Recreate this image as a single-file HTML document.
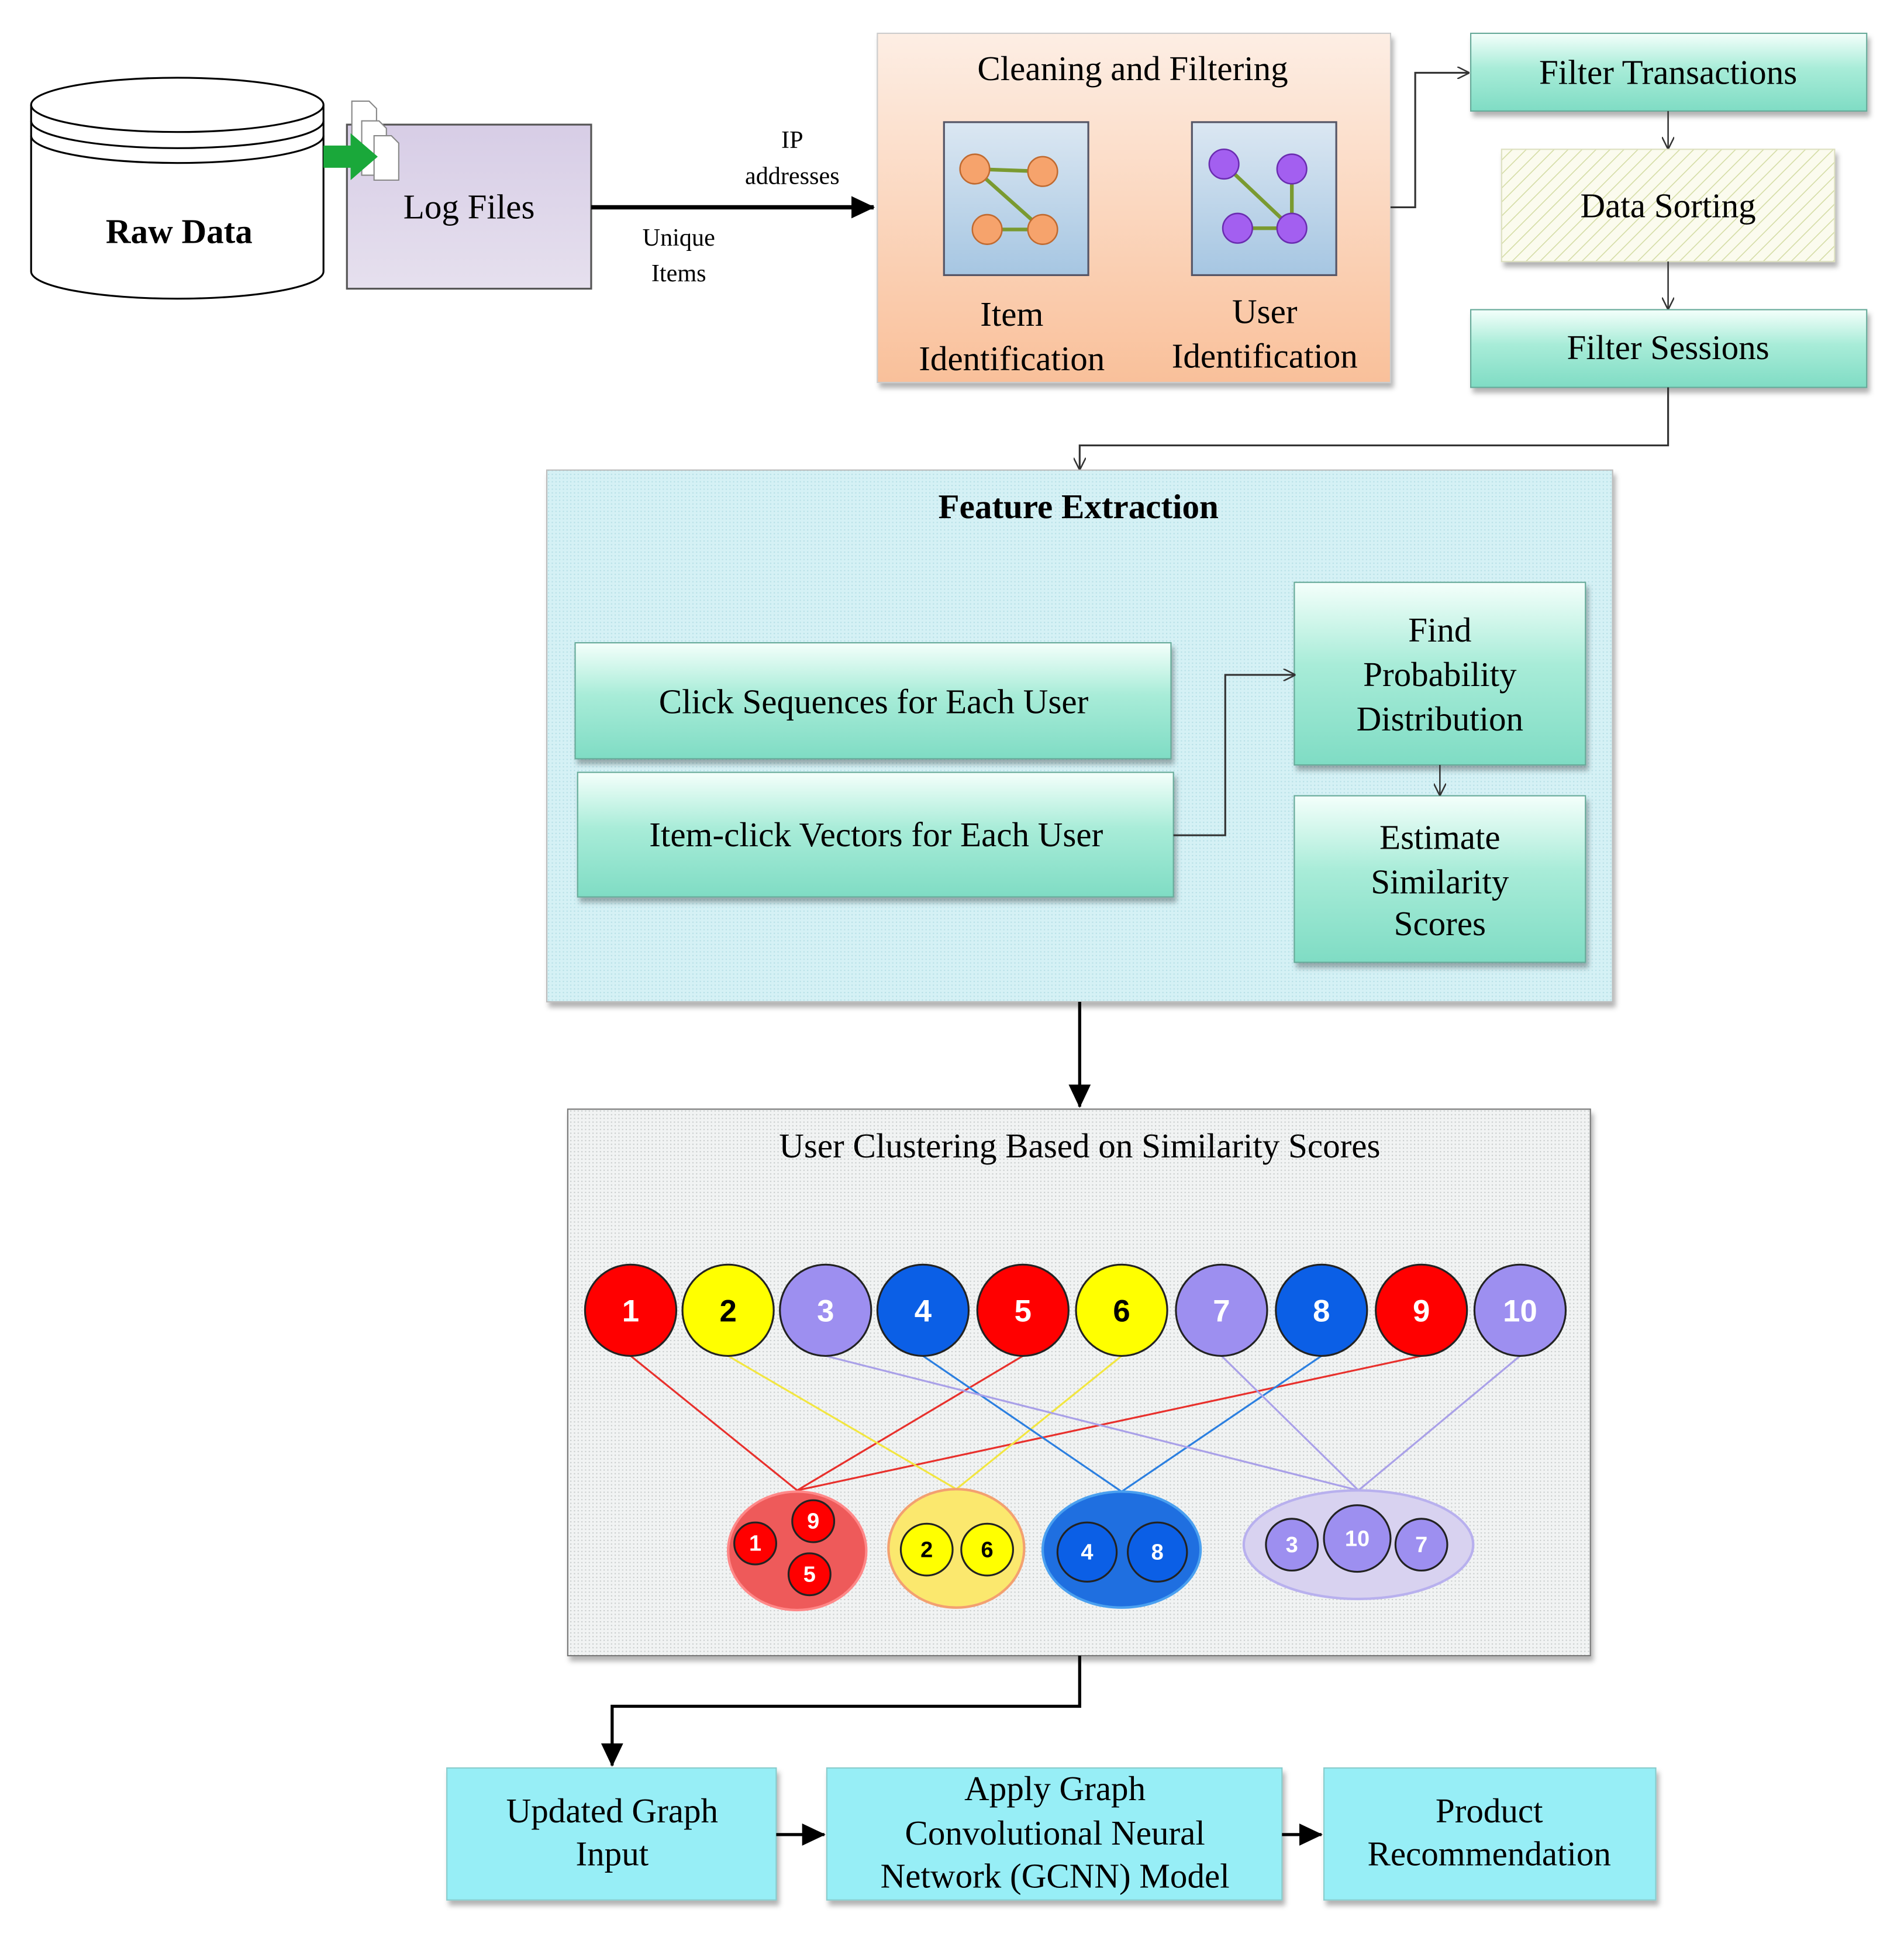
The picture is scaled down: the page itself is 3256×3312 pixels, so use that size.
<!DOCTYPE html>
<html><head><meta charset="utf-8"><style>html,body{margin:0;padding:0;background:#fff}svg{display:block}</style></head>
<body>
<svg xmlns="http://www.w3.org/2000/svg" width="3256" height="3312" viewBox="0 0 1543 1570" font-family="'Liberation Serif', serif">
<defs>
<linearGradient id="teal" x1="0" y1="0" x2="0" y2="1"><stop offset="0" stop-color="#f4fffb"/><stop offset="0.45" stop-color="#a8ecd8"/><stop offset="1" stop-color="#7fdcc4"/></linearGradient>
<linearGradient id="peach" x1="0" y1="0" x2="0" y2="1"><stop offset="0" stop-color="#fdeee4"/><stop offset="1" stop-color="#f9c09a"/></linearGradient>
<linearGradient id="lav" x1="0" y1="0" x2="0" y2="1"><stop offset="0" stop-color="#d7cde6"/><stop offset="1" stop-color="#e6e0ee"/></linearGradient>
<linearGradient id="icon" x1="0" y1="0" x2="0" y2="1"><stop offset="0" stop-color="#dbe7f2"/><stop offset="1" stop-color="#a6c6e2"/></linearGradient>
<pattern id="hatch" width="8" height="8" patternUnits="userSpaceOnUse" patternTransform="rotate(45)"><rect width="8" height="8" fill="#fbfbee"/><line x1="0" y1="0" x2="0" y2="8" stroke="#d4dca4" stroke-width="1.5"/></pattern>
<pattern id="dotc" width="3" height="3" patternUnits="userSpaceOnUse"><rect width="3" height="3" fill="#d5f1f5"/><rect width="1" height="1" fill="#b6dfe6"/></pattern>
<pattern id="dotg" width="3" height="3" patternUnits="userSpaceOnUse"><rect width="3" height="3" fill="#f1f3f3"/><rect width="1" height="1" fill="#c8cccc"/></pattern>
<marker id="ah" markerWidth="10" markerHeight="10" refX="9" refY="5" orient="auto" markerUnits="userSpaceOnUse"><path d="M0,0 L10,5 L0,10" fill="none" stroke="#333" stroke-width="1.2"/></marker>
<marker id="af" markerWidth="20" markerHeight="20" refX="18" refY="10" orient="auto" markerUnits="userSpaceOnUse"><path d="M0,1 L19,10 L0,19 z" fill="#000"/></marker>
<filter id="sh" x="-5%" y="-5%" width="115%" height="120%"><feDropShadow dx="2" dy="4" stdDeviation="2" flood-opacity="0.3"/></filter>
</defs>

<!-- Raw data cylinder -->
<path d="M25,85 L25,220 A118,22 0 0 0 262,220 L262,85" fill="#fff" stroke="#000" stroke-width="1.5"/>
<ellipse cx="143.5" cy="85" rx="118.5" ry="22" fill="#fff" stroke="#000" stroke-width="1.5"/>
<path d="M25,98 A118,22 0 0 0 262,98 M25,110 A118,22 0 0 0 262,110" fill="none" stroke="#000" stroke-width="1.5"/>
<text x="145" y="197" font-size="28" font-weight="bold" text-anchor="middle">Raw Data</text>

<!-- Log files -->
<rect x="281" y="101" width="198" height="133" fill="url(#lav)" stroke="#555" stroke-width="1.5"/>
<text x="380" y="177" font-size="28" text-anchor="middle">Log Files</text>
<path d="M285,82 h14 l6,6 v38 h-20 z" fill="#fff" stroke="#888"/>
<path d="M293,98 h14 l6,6 v38 h-20 z" fill="#fff" stroke="#888"/>
<path d="M303,110 h14 l6,6 v30 h-20 z" fill="#fff" stroke="#888"/>
<path d="M262,118 h22 v-10 l22,19 l-22,19 v-10 h-22 z" fill="#1aa83a"/>

<!-- main arrow -->
<line x1="479" y1="168" x2="708" y2="168" stroke="#000" stroke-width="3.5" marker-end="url(#af)"/>
<text x="642" y="120" font-size="20" text-anchor="middle">IP</text>
<text x="642" y="149" font-size="20" text-anchor="middle">addresses</text>
<text x="550" y="199" font-size="20" text-anchor="middle">Unique</text>
<text x="550" y="228" font-size="20" text-anchor="middle">Items</text>

<!-- Cleaning -->
<rect x="711" y="27" width="416" height="283" fill="url(#peach)" stroke="#ccc" filter="url(#sh)"/>
<text x="918" y="65" font-size="28" text-anchor="middle">Cleaning and Filtering</text>
<rect x="765" y="99" width="117" height="124" fill="url(#icon)" stroke="#556" stroke-width="1.5"/>
<rect x="966" y="99" width="117" height="124" fill="url(#icon)" stroke="#556" stroke-width="1.5"/>
<g stroke="#7a9a30" stroke-width="3"><line x1="790" y1="137" x2="845" y2="139"/><line x1="790" y1="137" x2="845" y2="186"/><line x1="800" y1="186" x2="845" y2="186"/>
<line x1="992" y1="133" x2="1047" y2="185"/><line x1="1047" y1="137" x2="1047" y2="185"/><line x1="1003" y1="185" x2="1047" y2="185"/></g>
<g fill="#f6a36c" stroke="#c06a30" stroke-width="1.2"><circle cx="790" cy="137" r="12"/><circle cx="845" cy="139" r="12"/><circle cx="800" cy="186" r="12"/><circle cx="845" cy="186" r="12"/></g>
<g fill="#a35ff0" stroke="#6a2cb0" stroke-width="1.2"><circle cx="992" cy="133" r="12"/><circle cx="1047" cy="137" r="12"/><circle cx="1003" cy="185" r="12"/><circle cx="1047" cy="185" r="12"/></g>
<g font-size="28" text-anchor="middle"><text x="820" y="264">Item</text><text x="820" y="300">Identification</text><text x="1025" y="262">User</text><text x="1025" y="298">Identification</text></g>

<path d="M1127,168 H1147 V59 H1190" fill="none" stroke="#333" stroke-width="1.5" marker-end="url(#ah)"/>

<!-- Right column -->
<rect x="1192" y="27" width="321" height="63" fill="url(#teal)" stroke="#6a9" filter="url(#sh)"/>
<text x="1352" y="68" font-size="28" text-anchor="middle">Filter Transactions</text>
<line x1="1352" y1="90" x2="1352" y2="120" stroke="#333" stroke-width="1.2" marker-end="url(#ah)"/>
<rect x="1217" y="121" width="270" height="91" fill="url(#hatch)" stroke="#dde0c0" filter="url(#sh)"/>
<text x="1352" y="176" font-size="28" text-anchor="middle">Data Sorting</text>
<line x1="1352" y1="212" x2="1352" y2="250" stroke="#333" stroke-width="1.2" marker-end="url(#ah)"/>
<rect x="1192" y="251" width="321" height="63" fill="url(#teal)" stroke="#6a9" filter="url(#sh)"/>
<text x="1352" y="291" font-size="28" text-anchor="middle">Filter Sessions</text>
<path d="M1352,314 V361 H875 V380" fill="none" stroke="#333" stroke-width="1.5" marker-end="url(#ah)"/>

<!-- Feature extraction -->
<rect x="443" y="381" width="864" height="431" fill="url(#dotc)" stroke="#bbb" filter="url(#sh)"/>
<text x="874" y="420" font-size="28" font-weight="bold" text-anchor="middle">Feature Extraction</text>
<rect x="466" y="521" width="483" height="94" fill="url(#teal)" stroke="#6a9" filter="url(#sh)"/>
<text x="708" y="578" font-size="28" text-anchor="middle">Click Sequences for Each User</text>
<rect x="468" y="626" width="483" height="101" fill="url(#teal)" stroke="#6a9" filter="url(#sh)"/>
<text x="710" y="686" font-size="28" text-anchor="middle">Item-click Vectors for Each User</text>
<rect x="1049" y="472" width="236" height="148" fill="url(#teal)" stroke="#6a9" filter="url(#sh)"/>
<g font-size="28" text-anchor="middle"><text x="1167" y="520">Find</text><text x="1167" y="556">Probability</text><text x="1167" y="592">Distribution</text></g>
<rect x="1049" y="645" width="236" height="135" fill="url(#teal)" stroke="#6a9" filter="url(#sh)"/>
<g font-size="28" text-anchor="middle"><text x="1167" y="688">Estimate</text><text x="1167" y="724">Similarity</text><text x="1167" y="758">Scores</text></g>
<path d="M951,677 H993 V547 H1049" fill="none" stroke="#333" stroke-width="1.5" marker-end="url(#ah)"/>
<line x1="1167" y1="620" x2="1167" y2="644" stroke="#333" stroke-width="1.2" marker-end="url(#ah)"/>

<line x1="875" y1="812" x2="875" y2="897" stroke="#000" stroke-width="2.5" marker-end="url(#af)"/>

<!-- Clustering -->
<rect x="460" y="899" width="829" height="443" fill="url(#dotg)" stroke="#777" filter="url(#sh)"/>
<text x="875" y="938" font-size="28" text-anchor="middle">User Clustering Based on Similarity Scores</text>

<g stroke-width="1.5" fill="none">
<path d="M511,1099 L646,1208 M829,1099 L646,1208 M1152,1099 L646,1208" stroke="#e8302c"/>
<path d="M590,1099 L775,1207 M909,1099 L775,1207" stroke="#f2e640"/>
<path d="M748,1099 L909,1209 M1071,1099 L909,1209" stroke="#2b7fe0"/>
<path d="M669,1099 L1101,1208 M990,1099 L1101,1208 M1232,1099 L1101,1208" stroke="#a9a0e8"/>
</g>

<g font-family="'Liberation Sans', sans-serif" font-weight="bold" text-anchor="middle" stroke="#222" stroke-width="1.5">
<circle cx="511" cy="1062" r="37" fill="#f00"/><circle cx="590" cy="1062" r="37" fill="#ff0"/><circle cx="669" cy="1062" r="37" fill="#9d8ff0"/><circle cx="748" cy="1062" r="37" fill="#0b5fe6"/><circle cx="829" cy="1062" r="37" fill="#f00"/><circle cx="909" cy="1062" r="37" fill="#ff0"/><circle cx="990" cy="1062" r="37" fill="#9d8ff0"/><circle cx="1071" cy="1062" r="37" fill="#0b5fe6"/><circle cx="1152" cy="1062" r="37" fill="#f00"/><circle cx="1232" cy="1062" r="37" fill="#9d8ff0"/>
</g>
<g font-family="'Liberation Sans', sans-serif" font-weight="bold" font-size="25" text-anchor="middle" fill="#fff">
<text x="511" y="1071">1</text><text x="590" y="1071" fill="#000">2</text><text x="669" y="1071">3</text><text x="748" y="1071">4</text><text x="829" y="1071">5</text><text x="909" y="1071" fill="#000">6</text><text x="990" y="1071">7</text><text x="1071" y="1071">8</text><text x="1152" y="1071">9</text><text x="1232" y="1071">10</text>
</g>

<ellipse cx="646" cy="1257" rx="56" ry="48" fill="#ee5a5a" stroke="#f88" stroke-width="2"/>
<ellipse cx="775" cy="1255" rx="55" ry="48" fill="#fbe86e" stroke="#f3a070" stroke-width="2"/>
<ellipse cx="909" cy="1256" rx="64" ry="47" fill="#1f6fe0" stroke="#4aa0f0" stroke-width="2"/>
<ellipse cx="1101" cy="1252" rx="93" ry="44" fill="#d8d2f0" stroke="#b8b0ee" stroke-width="2"/>
<g stroke="#222" stroke-width="1.5">
<circle cx="612" cy="1251" r="17" fill="#f00"/><circle cx="659" cy="1233" r="17" fill="#f00"/><circle cx="656" cy="1276" r="17" fill="#f00"/>
<circle cx="751" cy="1256" r="21" fill="#ff0"/><circle cx="800" cy="1256" r="21" fill="#ff0"/>
<circle cx="881" cy="1258" r="24" fill="#0b5fe6"/><circle cx="938" cy="1258" r="24" fill="#0b5fe6"/>
<circle cx="1047" cy="1252" r="21" fill="#9d8ff0"/><circle cx="1100" cy="1247" r="27" fill="#9d8ff0"/><circle cx="1152" cy="1252" r="21" fill="#9d8ff0"/>
</g>
<g font-family="'Liberation Sans', sans-serif" font-weight="bold" font-size="18" text-anchor="middle" fill="#fff">
<text x="612" y="1257">1</text><text x="659" y="1239">9</text><text x="656" y="1282">5</text>
<text x="751" y="1262" fill="#000">2</text><text x="800" y="1262" fill="#000">6</text>
<text x="881" y="1264">4</text><text x="938" y="1264">8</text>
<text x="1047" y="1258">3</text><text x="1100" y="1253">10</text><text x="1152" y="1258">7</text>
</g>

<path d="M875,1342 V1383 H496 V1431" fill="none" stroke="#000" stroke-width="2.5" marker-end="url(#af)"/>

<!-- bottom boxes -->
<rect x="362" y="1433" width="267" height="107" fill="#97eef6" stroke="#8cc" filter="url(#sh)"/>
<g font-size="28" text-anchor="middle"><text x="496" y="1477">Updated Graph</text><text x="496" y="1512">Input</text></g>
<rect x="670" y="1433" width="369" height="107" fill="#97eef6" stroke="#8cc" filter="url(#sh)"/>
<g font-size="28" text-anchor="middle"><text x="855" y="1459">Apply Graph</text><text x="855" y="1495">Convolutional Neural</text><text x="855" y="1530">Network (GCNN) Model</text></g>
<rect x="1073" y="1433" width="269" height="107" fill="#97eef6" stroke="#8cc" filter="url(#sh)"/>
<g font-size="28" text-anchor="middle"><text x="1207" y="1477">Product</text><text x="1207" y="1512">Recommendation</text></g>
<line x1="629" y1="1487" x2="668" y2="1487" stroke="#000" stroke-width="2.5" marker-end="url(#af)"/>
<line x1="1039" y1="1487" x2="1071" y2="1487" stroke="#000" stroke-width="2.5" marker-end="url(#af)"/>
</svg>
</body></html>
